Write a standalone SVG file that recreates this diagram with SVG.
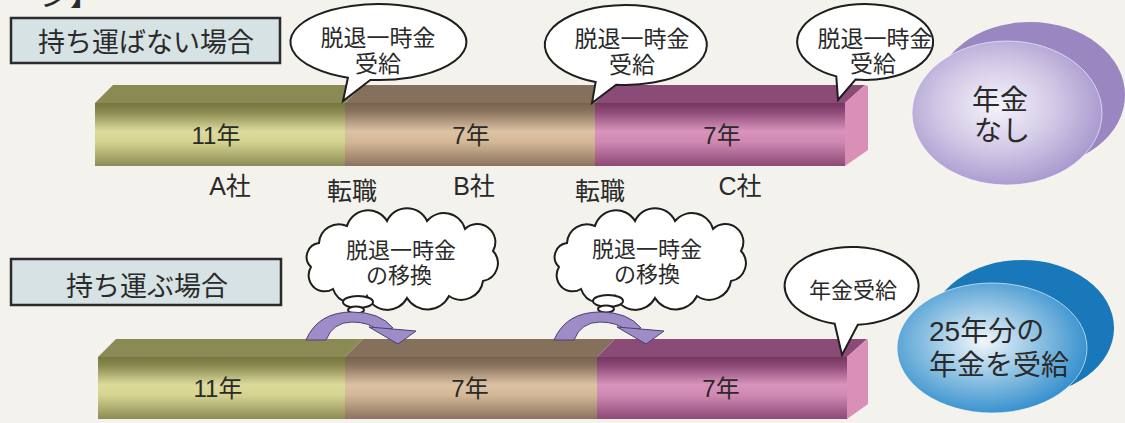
<svg xmlns="http://www.w3.org/2000/svg" width="1125" height="423" viewBox="0 0 1125 423">
<defs>
<style>
.t{font-family:"Liberation Sans","Noto Sans CJK JP",sans-serif;fill:#2a2a2a;text-anchor:middle}
.title{fill:#d6e2e4;stroke:#2b2b2b;stroke-width:2.5}
.bub{fill:#ffffff;stroke:#1e1e1e;stroke-width:2}
.arrow{fill:#9d8cc8;stroke:#4a3f6e;stroke-width:1}
</style>
<linearGradient id="gA" x1="0" y1="0" x2="0" y2="1"><stop offset="0" stop-color="#77763f"/><stop offset="0.14" stop-color="#8a8950"/><stop offset="0.45" stop-color="#dddb9c"/><stop offset="0.62" stop-color="#d5d38f"/><stop offset="1" stop-color="#8c8b56"/></linearGradient>
<linearGradient id="gB" x1="0" y1="0" x2="0" y2="1"><stop offset="0" stop-color="#75624e"/><stop offset="0.14" stop-color="#8b745e"/><stop offset="0.45" stop-color="#dcc2a4"/><stop offset="0.62" stop-color="#d3b796"/><stop offset="1" stop-color="#8c735e"/></linearGradient>
<linearGradient id="gC" x1="0" y1="0" x2="0" y2="1"><stop offset="0" stop-color="#74365f"/><stop offset="0.14" stop-color="#8e4a78"/><stop offset="0.45" stop-color="#d894bc"/><stop offset="0.62" stop-color="#cf88b1"/><stop offset="1" stop-color="#8c4a76"/></linearGradient>
<radialGradient id="gP" cx="0.45" cy="0.45" r="0.6"><stop offset="0" stop-color="#f6f4fb"/><stop offset="0.5" stop-color="#d2c9e6"/><stop offset="1" stop-color="#a394cc"/></radialGradient>
<radialGradient id="gBl" cx="0.45" cy="0.45" r="0.6"><stop offset="0" stop-color="#f2f7fb"/><stop offset="0.5" stop-color="#8cc0e2"/><stop offset="1" stop-color="#2a8acb"/></radialGradient>
<path id="cloud" d="M -88 8 A 14 14 0 0 1 -80 -16 A 20 20 0 0 1 -52 -33 A 22 22 0 0 1 -12 -38 A 22 22 0 0 1 28 -38 A 22 22 0 0 1 66 -30 A 18 18 0 0 1 94 -8 A 18 18 0 0 1 84 22 A 22 22 0 0 1 50 37 A 24 24 0 0 1 8 39 A 22 22 0 0 1 -32 37 A 20 20 0 0 1 -66 30 A 16 16 0 0 1 -88 8 Z"/>
</defs>
<rect x="0" y="0" width="1125" height="423" fill="#f3f2ec"/>
<text class="t" x="40" y="5" font-size="30" style="text-anchor:start">ジ】</text>

<g id="title-no">
<rect class="title" x="11" y="18" width="269" height="45"/>
<text class="t" x="146" y="52" font-size="27">持ち運ばない場合</text>
</g>
<g id="title-yes">
<rect class="title" x="11" y="259" width="270" height="46"/>
<text class="t" x="147" y="296" font-size="27">持ち運ぶ場合</text>
</g>

<g id="bar-top">
<polygon points="95,103 113,85 363,85 345,103" fill="#8b8a55"/>
<polygon points="345,103 363,85 613,85 595,103" fill="#85705c"/>
<polygon points="595,103 613,85 865,85 845,103" fill="#8a4c76"/>
<rect x="95" y="103" width="250" height="63" fill="url(#gA)"/>
<rect x="345" y="103" width="250" height="63" fill="url(#gB)"/>
<rect x="595" y="103" width="250" height="63" fill="url(#gC)"/>
<polygon points="845,103 865,85 868,86 868,150 845,166" fill="#d98fb6"/>
<text class="t" x="216" y="144" font-size="24">11年</text>
<text class="t" x="471" y="144" font-size="24">7年</text>
<text class="t" x="722" y="144" font-size="24">7年</text>
</g>

<g id="labels">
<text class="t" x="230" y="195" font-size="25">A社</text>
<text class="t" x="352" y="200" font-size="25">転職</text>
<text class="t" x="474" y="195" font-size="25">B社</text>
<text class="t" x="600" y="200" font-size="25">転職</text>
<text class="t" x="740" y="195" font-size="25">C社</text>
</g>

<g id="bar-bottom">
<polygon points="98,357 116,339 363,339 345,357" fill="#8b8a55"/>
<polygon points="345,357 363,339 615,339 597,357" fill="#85705c"/>
<polygon points="597,357 615,339 867,339 847,357" fill="#8a4c76"/>
<rect x="98" y="357" width="247" height="62" fill="url(#gA)"/>
<rect x="345" y="357" width="252" height="62" fill="url(#gB)"/>
<rect x="597" y="357" width="250" height="62" fill="url(#gC)"/>
<polygon points="847,357 867,339 868,340 868,404 847,419" fill="#d98fb6"/>
<text class="t" x="218" y="397" font-size="24">11年</text>
<text class="t" x="470" y="397" font-size="24">7年</text>
<text class="t" x="721" y="397" font-size="24">7年</text>
</g>

<g id="bubble1">
<path class="bub" d="M 347.9 77.7 L 343 101 L 370.3 79.9 A 88 38 0 1 0 347.9 77.7 Z"/>
<text class="t" x="378" y="46" font-size="23">脱退一時金</text>
<text class="t" x="378" y="72" font-size="23">受給</text>
</g>
<g id="bubble2">
<path class="bub" d="M 595.6 82.1 L 592 103 L 616.1 84.7 A 81 40 0 1 0 595.6 82.1 Z"/>
<text class="t" x="632" y="47" font-size="23">脱退一時金</text>
<text class="t" x="632" y="73" font-size="23">受給</text>
</g>
<g id="bubble3">
<path class="bub" d="M 836.3 76.4 L 838 100 L 855.5 79.6 A 68 38 0 1 0 836.3 76.4 Z"/>
<text class="t" x="875" y="47" font-size="23">脱退一時金</text>
<text class="t" x="873" y="72" font-size="23">受給</text>
</g>
<g id="bubble4">
<path class="bub" d="M 834.7 323.7 L 842 355 L 857.8 324.8 A 67 39 0 1 0 834.7 323.7 Z"/>
<text class="t" x="853" y="298" font-size="22">年金受給</text>
</g>

<g id="result-none">
<ellipse cx="1030" cy="95" rx="95" ry="73" fill="#9a86c0"/>
<ellipse cx="1007" cy="113" rx="95" ry="72" fill="url(#gP)" stroke="#ffffff" stroke-opacity="0.6" stroke-width="1"/>
<text class="t" x="1000" y="110" font-size="28">年金</text>
<text class="t" x="1002" y="141" font-size="28">なし</text>
</g>
<g id="result-yes">
<ellipse cx="1022" cy="328" rx="92" ry="68" fill="#1878b9"/>
<ellipse cx="992" cy="348" rx="95" ry="65" fill="url(#gBl)" stroke="#ffffff" stroke-opacity="0.6" stroke-width="1"/>
<text class="t" x="929" y="341" font-size="28" style="text-anchor:start">25年分の</text>
<text class="t" x="929" y="375" font-size="28" style="text-anchor:start">年金を受給</text>
</g>

<g id="cloud1">
<use href="#cloud" x="399" y="259" class="bub"/>
<ellipse class="bub" cx="358" cy="302" rx="15" ry="6" stroke-width="1.5"/>
<ellipse class="bub" cx="356" cy="310" rx="8" ry="3.5" stroke-width="1.5"/>
<text class="t" x="401" y="258" font-size="22">脱退一時金</text>
<text class="t" x="399" y="283" font-size="22">の移換</text>
</g>
<g id="cloud2">
<use href="#cloud" x="647" y="259" class="bub"/>
<ellipse class="bub" cx="608" cy="301" rx="15" ry="6" stroke-width="1.5"/>
<ellipse class="bub" cx="606" cy="309" rx="8" ry="3.5" stroke-width="1.5"/>
<text class="t" x="647" y="257" font-size="22">脱退一時金</text>
<text class="t" x="647" y="282" font-size="22">の移換</text>
</g>

<g id="connectors">
<g id="arrow1">
<path class="arrow" d="M 306 340 Q 318 312 352 312 Q 380 312 393 328 L 379 331 Q 369 322 352 322 Q 333 322 326 340 Z"/>
<polygon class="arrow" points="369,327 416,331 398,344"/>
</g>
<g id="arrow2" transform="translate(248,0)">
<path class="arrow" d="M 306 340 Q 318 312 352 312 Q 380 312 393 328 L 379 331 Q 369 322 352 322 Q 333 322 326 340 Z"/>
<polygon class="arrow" points="369,327 416,331 398,344"/>
</g>
</g>
</svg>
